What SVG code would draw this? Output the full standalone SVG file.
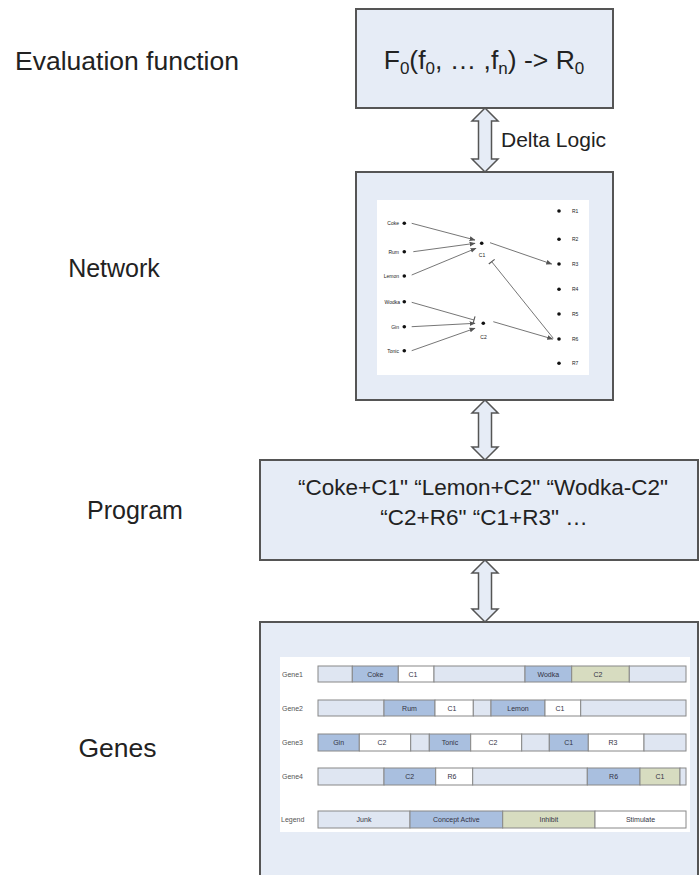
<svg xmlns="http://www.w3.org/2000/svg" width="700" height="875" viewBox="0 0 700 875">
  <defs>
    <style>
      .lbl { font-family: "Liberation Sans", Arial, sans-serif; font-size: 26.5px; fill: #222; }
      .lbl-s { font-family: "Liberation Sans", Arial, sans-serif; font-size: 25px; fill: #222; text-anchor: middle; }
      .box { fill: #e6ecf6; stroke: #555; stroke-width: 2; }
      .dbl { fill: #e6ecf6; stroke: #555; stroke-width: 1.5; stroke-linejoin: miter; }
      .main { font-family: "Liberation Sans", Arial, sans-serif; fill: #222; }
      .tiny { font-family: "Liberation Sans", Arial, sans-serif; font-size: 5px; fill: #222; }
      .edge { stroke: #666; stroke-width: 0.9; fill: none; }
      .dot { fill: #111; }
      .junk { fill: #dfe6f2; stroke: #888; stroke-width: 1; }
      .conc { fill: #a9bfdf; stroke: #888; stroke-width: 1; }
      .inh { fill: #d7dcc0; stroke: #888; stroke-width: 1; }
      .stim { fill: #ffffff; stroke: #888; stroke-width: 1; }
      .seg { font-family: "Liberation Sans", Arial, sans-serif; font-size: 7px; fill: #334; text-anchor: middle; }
      .glbl { font-family: "Liberation Sans", Arial, sans-serif; font-size: 7px; fill: #555; }
    </style>
    <marker id="ah" viewBox="0 0 10 10" refX="9" refY="5" markerWidth="6" markerHeight="6" orient="auto" markerUnits="userSpaceOnUse">
      <path d="M0,1 L10,5 L0,9 Z" fill="#555"/>
    </marker>
    <marker id="bar" viewBox="0 0 4 10" refX="2" refY="5" markerWidth="3" markerHeight="8" orient="auto" markerUnits="userSpaceOnUse">
      <path d="M2,0 L2,10" stroke="#555" stroke-width="1.5"/>
    </marker>
  </defs>

  <rect width="700" height="875" fill="#ffffff"/>

  <!-- level labels -->
  <g id="labels">
    <text class="lbl" x="15" y="70">Evaluation function</text>
    <text class="lbl-s" x="114" y="277">Network</text>
    <text class="lbl-s" x="135" y="519">Program</text>
    <text class="lbl" x="117.5" y="757" text-anchor="middle">Genes</text>
  </g>

  <!-- connectors between levels -->
  <g id="connectors">
    <path class="dbl" d="M485,108 L498,121 L491.5,121 L491.5,159 L498,159 L485,172 L472,159 L478.5,159 L478.5,121 L472,121 Z"/>
    <text class="main" font-size="21" x="501" y="147">Delta Logic</text>
    <path class="dbl" d="M485,400 L498,413 L491.5,413 L491.5,447 L498,447 L485,460 L472,447 L478.5,447 L478.5,413 L472,413 Z"/>
    <path class="dbl" d="M485,560 L498,573 L491.5,573 L491.5,609 L498,609 L485,622 L472,609 L478.5,609 L478.5,573 L472,573 Z"/>
  </g>

  <!-- evaluation function -->
  <g id="evaluation">
    <rect class="box" x="356" y="9" width="257" height="99"/>
    <text class="main" font-size="26.5" x="484" y="69" text-anchor="middle">F<tspan font-size="17" dy="5">0</tspan><tspan dy="-5">(f</tspan><tspan font-size="17" dy="5">0</tspan><tspan dy="-5">, … ,f</tspan><tspan font-size="17" dy="5">n</tspan><tspan dy="-5">) -&gt; R</tspan><tspan font-size="17" dy="5">0</tspan></text>
  </g>

  <!-- network -->
  <g id="network">
    <rect class="box" x="356" y="172" width="257" height="228"/>
    <rect x="377" y="200" width="212" height="175" fill="#ffffff"/>
    <g class="edges">
      <line class="edge" x1="411.7" y1="223.3" x2="475" y2="240" marker-end="url(#ah)"/>
      <line class="edge" x1="413.3" y1="251.7" x2="475" y2="243.3" marker-end="url(#ah)"/>
      <line class="edge" x1="411.7" y1="275" x2="476" y2="248.3" marker-end="url(#ah)"/>
      <line class="edge" x1="490" y1="242.7" x2="551.7" y2="264" marker-end="url(#ah)"/>
      <line class="edge" x1="553.3" y1="338.3" x2="491.7" y2="261.7" marker-end="url(#bar)"/>
      <line class="edge" x1="411.7" y1="302.3" x2="474" y2="320" marker-end="url(#bar)"/>
      <line class="edge" x1="411.7" y1="326.7" x2="475" y2="323.3" marker-end="url(#ah)"/>
      <line class="edge" x1="411.7" y1="350.7" x2="475" y2="328.3" marker-end="url(#ah)"/>
      <line class="edge" x1="493.3" y1="321.7" x2="552.7" y2="339" marker-end="url(#ah)"/>
    </g>
    <g class="nodes">
      <circle class="dot" cx="404.3" cy="223.3" r="1.8"/>
      <circle class="dot" cx="404.3" cy="251.7" r="1.8"/>
      <circle class="dot" cx="404.3" cy="276" r="1.8"/>
      <circle class="dot" cx="404.3" cy="301.7" r="1.8"/>
      <circle class="dot" cx="404.3" cy="326.7" r="1.8"/>
      <circle class="dot" cx="404.3" cy="350.7" r="1.8"/>
      <circle class="dot" cx="481.7" cy="243.3" r="1.8"/>
      <circle class="dot" cx="483.3" cy="323.3" r="1.8"/>
      <circle class="dot" cx="559" cy="211" r="1.8"/>
      <circle class="dot" cx="559" cy="239.3" r="1.8"/>
      <circle class="dot" cx="559" cy="264" r="1.8"/>
      <circle class="dot" cx="559" cy="289.3" r="1.8"/>
      <circle class="dot" cx="559" cy="314" r="1.8"/>
      <circle class="dot" cx="559" cy="339" r="1.8"/>
      <circle class="dot" cx="559" cy="363.3" r="1.8"/>
    </g>
    <g text-anchor="end">
      <text class="tiny" x="399" y="225">Coke</text>
      <text class="tiny" x="399" y="253.5">Rum</text>
      <text class="tiny" x="399" y="278">Lemon</text>
      <text class="tiny" x="400" y="303.5">Wodka</text>
      <text class="tiny" x="399" y="328.5">Gin</text>
      <text class="tiny" x="399" y="352.5">Tonic</text>
    </g>
    <g text-anchor="middle">
      <text class="tiny" x="482" y="257">C1</text>
      <text class="tiny" x="483.5" y="338.5">C2</text>
    </g>
    <g>
      <text class="tiny" x="572" y="213">R1</text>
      <text class="tiny" x="572" y="241">R2</text>
      <text class="tiny" x="572" y="266">R3</text>
      <text class="tiny" x="572" y="291">R4</text>
      <text class="tiny" x="572" y="316">R5</text>
      <text class="tiny" x="572" y="341">R6</text>
      <text class="tiny" x="572" y="365">R7</text>
    </g>
  </g>

  <!-- program -->
  <g id="program">
    <rect class="box" x="260" y="460" width="438" height="100"/>
    <text class="main" font-size="22.5" x="483" y="495" text-anchor="middle">“Coke+C1" “Lemon+C2" “Wodka-C2"</text>
    <text class="main" font-size="22.5" x="484" y="525" text-anchor="middle">“C2+R6" “C1+R3" …</text>
  </g>

  <!-- genes -->
  <g id="genes">
    <rect class="box" x="260" y="622" width="438" height="262"/>
    <rect x="280" y="657" width="410" height="175" fill="#ffffff"/>

    <g id="gene1">
      <text class="glbl" x="282" y="677">Gene1</text>
      <rect class="junk" x="318" y="666" width="34.3" height="16"/>
      <rect class="conc" x="352.3" y="666" width="46" height="16"/>
      <rect class="stim" x="398.3" y="666" width="35.7" height="16"/>
      <rect class="junk" x="434" y="666" width="91" height="16"/>
      <rect class="conc" x="525" y="666" width="46.7" height="16"/>
      <rect class="inh" x="571.7" y="666" width="57.6" height="16"/>
      <rect class="junk" x="629.3" y="666" width="56.7" height="16"/>
      <text class="seg" x="375.3" y="676.5">Coke</text>
      <text class="seg" x="413" y="676.5">C1</text>
      <text class="seg" x="548.3" y="676.5">Wodka</text>
      <text class="seg" x="598" y="676.5">C2</text>
    </g>

    <g id="gene2">
      <text class="glbl" x="282" y="711">Gene2</text>
      <rect class="junk" x="318" y="700" width="66" height="16"/>
      <rect class="conc" x="384" y="700" width="51" height="16"/>
      <rect class="stim" x="435" y="700" width="38.3" height="16"/>
      <rect class="junk" x="473.3" y="700" width="17.7" height="16"/>
      <rect class="conc" x="491" y="700" width="54" height="16"/>
      <rect class="stim" x="545" y="700" width="35.7" height="16"/>
      <rect class="junk" x="580.7" y="700" width="105.3" height="16"/>
      <text class="seg" x="409.5" y="710.5">Rum</text>
      <text class="seg" x="452" y="710.5">C1</text>
      <text class="seg" x="518" y="710.5">Lemon</text>
      <text class="seg" x="560" y="710.5">C1</text>
    </g>

    <g id="gene3">
      <text class="glbl" x="282" y="745">Gene3</text>
      <rect class="conc" x="318" y="734" width="41.3" height="17"/>
      <rect class="stim" x="359.3" y="734" width="51.4" height="17"/>
      <rect class="junk" x="410.7" y="734" width="18.6" height="17"/>
      <rect class="conc" x="429.3" y="734" width="41.4" height="17"/>
      <rect class="stim" x="470.7" y="734" width="51" height="17"/>
      <rect class="junk" x="521.7" y="734" width="27.6" height="17"/>
      <rect class="conc" x="549.3" y="734" width="39" height="17"/>
      <rect class="stim" x="588.3" y="734" width="55.7" height="17"/>
      <rect class="junk" x="644" y="734" width="42" height="17"/>
      <text class="seg" x="338.6" y="745">Gin</text>
      <text class="seg" x="382" y="745">C2</text>
      <text class="seg" x="450" y="745">Tonic</text>
      <text class="seg" x="493" y="745">C2</text>
      <text class="seg" x="568.8" y="745">C1</text>
      <text class="seg" x="613" y="745">R3</text>
    </g>

    <g id="gene4">
      <text class="glbl" x="282" y="779">Gene4</text>
      <rect class="junk" x="318" y="768" width="66" height="17"/>
      <rect class="conc" x="384" y="768" width="51.7" height="17"/>
      <rect class="stim" x="435.7" y="768" width="37" height="17"/>
      <rect class="junk" x="472.7" y="768" width="114.6" height="17"/>
      <rect class="conc" x="587.3" y="768" width="52.7" height="17"/>
      <rect class="inh" x="640" y="768" width="40" height="17"/>
      <rect class="junk" x="680" y="768" width="6" height="17"/>
      <text class="seg" x="409.8" y="779">C2</text>
      <text class="seg" x="452" y="779">R6</text>
      <text class="seg" x="613.6" y="779">R6</text>
      <text class="seg" x="660" y="779">C1</text>
    </g>

    <g id="legend">
      <text class="glbl" x="281" y="822">Legend</text>
      <rect class="junk" x="318" y="811" width="92" height="17"/>
      <rect class="conc" x="410" y="811" width="92.7" height="17"/>
      <rect class="inh" x="502.7" y="811" width="92.3" height="17"/>
      <rect class="stim" x="595" y="811" width="91" height="17"/>
      <text class="seg" x="364" y="822">Junk</text>
      <text class="seg" x="456.3" y="822">Concept Active</text>
      <text class="seg" x="548.8" y="822">Inhibit</text>
      <text class="seg" x="640.5" y="822">Stimulate</text>
    </g>
  </g>
</svg>
